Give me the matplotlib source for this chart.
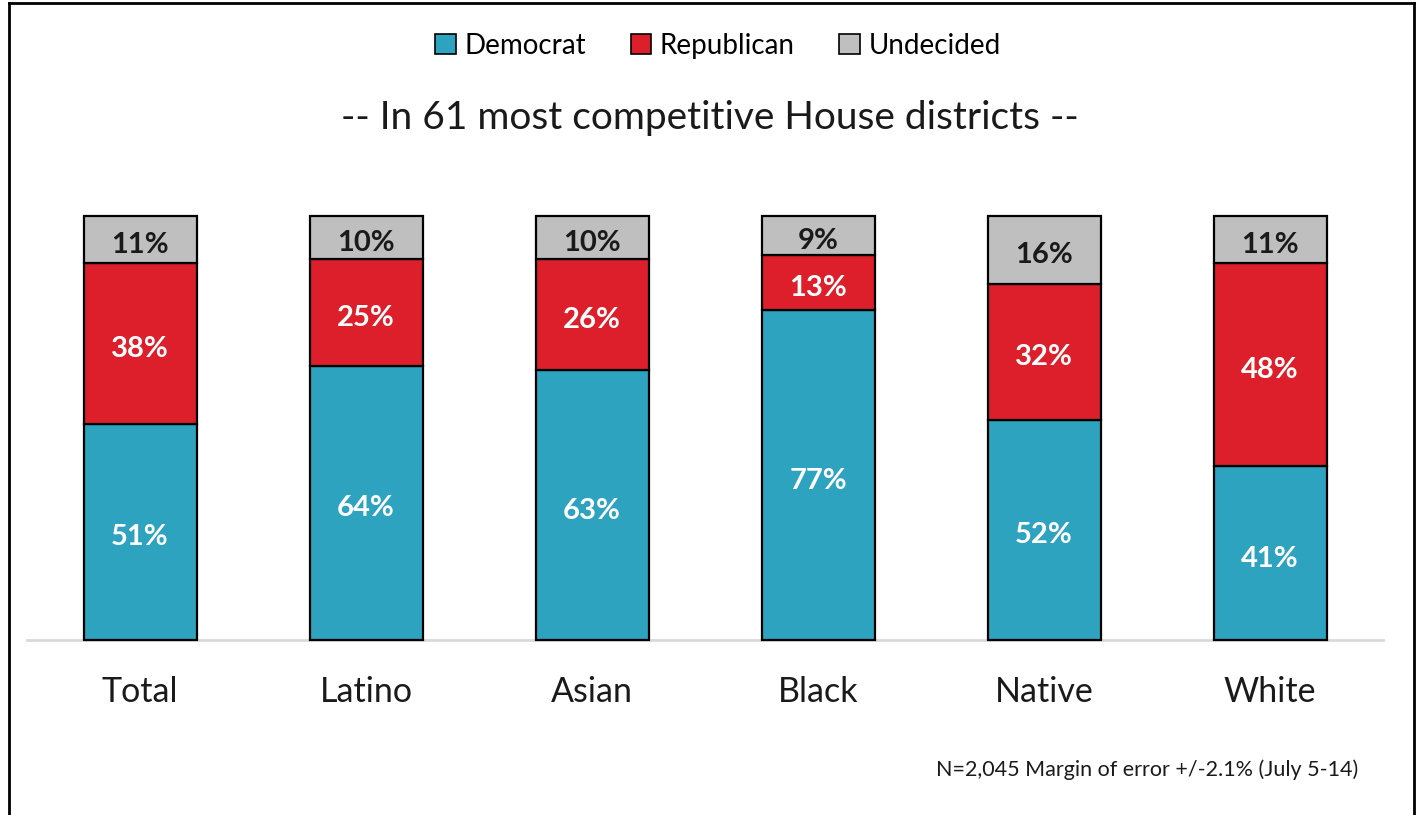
import numpy as np
import matplotlib.pyplot as plt
from matplotlib.lines import Line2D
from matplotlib.patches import Patch

plt.rcParams['font.family'] = ['Lato', 'DejaVu Sans']

# Datos
grupos = ['Total', 'Latino', 'Asian', 'Black', 'Native', 'White']
democrata = [51, 64, 63, 77, 52, 41]
republicano = [38, 25, 26, 13, 32, 48]
indeciso = [11, 10, 10, 9, 16, 11]

colores = {'Democrat': '#2EA3BF', 'Republican': '#DC1F2A', 'Undecided': '#BFBFBF'}

fig = plt.figure(figsize=(14.2, 8.15), dpi=100)
ax = fig.add_axes([27 / 1420, 175 / 815, 1356 / 1420, 424 / 815])

x = np.arange(len(grupos))
dem = np.array(democrata, dtype=float)
rep = np.array(republicano, dtype=float)
ind = np.array(indeciso, dtype=float)
total = dem + rep + ind  # barras al 100%

capas = [(dem, 'Democrat', 'white'), (rep, 'Republican', 'white'), (ind, 'Undecided', '#1a1a1a')]
base = np.zeros(len(grupos))
for vals, nombre, ctexto in capas:
    h = vals / total
    ax.bar(x, h, bottom=base, width=0.5, color=colores[nombre],
           edgecolor='black', linewidth=1.6, clip_on=False, zorder=3)
    for xi, b, hi, v in zip(x, base, h, vals):
        ax.annotate(f'{int(v)}%', (xi, b + hi / 2), xytext=(0, -3), textcoords='offset pixels',
                    ha='center', va='center_baseline', fontsize=21, fontweight='bold',
                    color=ctexto, zorder=4)
    base = base + h

ax.set_xlim(-0.5, len(grupos) - 0.5)
ax.set_ylim(0, 1)
for s in ax.spines.values():
    s.set_visible(False)
ax.axhline(0, color='#D9D9D9', linewidth=2, zorder=2, clip_on=False)
ax.set_yticks([])
ax.set_xticks(x)
ax.set_xticklabels(grupos, fontsize=24.5, color='#1a1a1a')
ax.tick_params(axis='x', length=0, pad=26)

# Leyenda
handles = [Patch(facecolor=colores[n], edgecolor='black', linewidth=1.2, label=n)
           for n in ['Democrat', 'Republican', 'Undecided']]
fig.legend(handles=handles, loc='center', bbox_to_anchor=(0.5 + 8 / 1420, 1 - 46 / 815), ncol=3,
           frameon=False, fontsize=20, handlelength=0.75, handleheight=0.75,
           handletextpad=0.3, columnspacing=1.6)

fig.text(0.5, 1 - 118 / 815, '-- In 61 most competitive House districts --',
         ha='center', va='center', fontsize=28, color='#1a1a1a')
fig.text(1358 / 1420, 1 - 770 / 815, 'N=2,045 Margin of error +/-2.1% (July 5-14)',
         ha='right', va='center', fontsize=15.5, color='#1a1a1a')

# Marco
for linea in [[(9 / 1420, 9 / 1420), (0, 1 - 3 / 815)],
              [(9 / 1420, 1414 / 1420), (1 - 3 / 815, 1 - 3 / 815)],
              [(1414 / 1420, 1414 / 1420), (1 - 3 / 815, 0)]]:
    fig.add_artist(Line2D(linea[0], linea[1], color='black', linewidth=2,
                          transform=fig.transFigure))

fig.savefig('out.png', dpi=100)
